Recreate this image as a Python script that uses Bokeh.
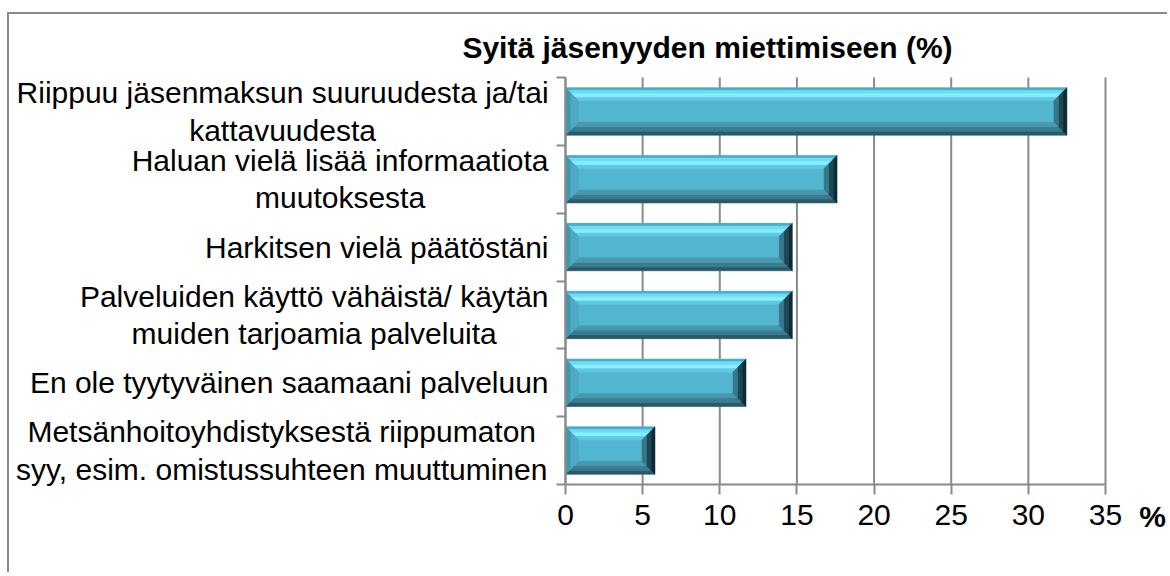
from bokeh.plotting import figure
from bokeh.models import FixedTicker, Label, Range1d, LinearAxis
from bokeh.embed import file_html
from bokeh.resources import INLINE

# ---- data ----
categories = [
    "Riippuu jäsenmaksun suuruudesta ja/tai\nkattavuudesta",
    "Haluan vielä lisää informaatiota\nmuutoksesta",
    "Harkitsen vielä päätöstäni",
    "Palveluiden käyttö vähäistä/ käytän\nmuiden tarjoamia palveluita",
    "En ole tyytyväinen saamaani palveluun",
    "Metsänhoitoyhdistyksestä riippumaton\nsyy, esim. omistussuhteen muuttuminen",
]
values = [32.5, 17.6, 14.7, 14.7, 11.7, 5.8]
x_ticks = [0, 5, 10, 15, 20, 25, 30, 35]
title_text = "Syitä jäsenyyden miettimiseen (%)"
unit_text = "%"

# ---- layout constants (page pixels) ----
FONT = "Liberation Sans"
FS = 30
GREY = "#8a8a8a"
X_MAX = 35
N = len(categories)
CANVAS_X, CANVAS_Y = 9, 14          # page position of the canvas
W, H = 1160, 560                    # canvas size
PLOT_L, PLOT_R = 565, 1105          # page x of value 0 and X_MAX
PLOT_T, PLOT_B = 77, 484            # page y of top / bottom of category band
kx = (PLOT_R - PLOT_L) / X_MAX
ky = (PLOT_B - PLOT_T) / N
x_start = -(PLOT_L - CANVAS_X) / kx
x_end = X_MAX + (CANVAS_X + W - PLOT_R) / kx
y_end = N + (PLOT_T - CANVAS_Y) / ky
y_start = -(CANVAS_Y + H - PLOT_B) / ky

# Arial / Liberation Sans advance widths (1/1000 em) for centring text blocks
_w = {c: 556 for c in "abdeghnopqäöå0123456789"}
_w.update({"c": 500, "f": 278, "i": 222, "j": 222, "k": 500, "l": 222, "m": 833,
           "r": 333, "s": 500, "t": 278, "v": 500, "w": 722, "x": 500, "y": 500,
           "z": 500, " ": 278, ",": 278, ".": 278, "/": 278, "R": 722, "H": 722,
           "P": 667, "E": 667, "M": 833, "S": 667, "K": 667})


def text_width(s, size):
    return max(sum(_w.get(ch, 556) for ch in line) for line in s.split("\n")) * size / 1000.0


p = figure(width=W, height=H, output_backend="svg", toolbar_location=None,
           x_range=Range1d(x_start, x_end), y_range=Range1d(y_start, y_end),
           x_axis_type=None, y_axis_type=None,
           min_border=0, min_border_left=0, min_border_right=0,
           min_border_top=0, min_border_bottom=0,
           styles={"border-left": f"2px solid {GREY}", "border-top": f"2px solid {GREY}",
                   "margin-top": f"{CANVAS_Y - 2}px", "margin-left": f"{CANVAS_X - 2}px"})
p.outline_line_color = None
p.background_fill_color = "white"
p.border_fill_color = "white"
p.xgrid.visible = False
p.ygrid.visible = False

# ---- vertical grid lines (behind bars) ----
p.segment(x0=x_ticks, x1=x_ticks, y0=[0] * len(x_ticks), y1=[N] * len(x_ticks),
          line_color=GREY, line_width=2)

# ---- x axis at y=0 ----
xaxis = LinearAxis(fixed_location=0, bounds=(0, X_MAX), ticker=FixedTicker(ticks=x_ticks))
xaxis.axis_line_color = GREY
xaxis.axis_line_width = 2
xaxis.major_tick_line_color = GREY
xaxis.major_tick_line_width = 2
xaxis.major_tick_in = 0
xaxis.major_tick_out = 10
xaxis.minor_tick_line_color = None
xaxis.major_label_text_font = FONT
xaxis.major_label_text_font_size = f"{FS}px"
xaxis.major_label_text_color = "black"
xaxis.major_label_standoff = 10
p.add_layout(xaxis, "below")

# ---- y axis at x=0: ticks at category boundaries ----
yaxis = LinearAxis(fixed_location=0, bounds=(0, N), ticker=FixedTicker(ticks=list(range(N + 1))))
yaxis.major_label_overrides = {i: "" for i in range(N + 1)}
yaxis.axis_line_color = GREY
yaxis.axis_line_width = 2
yaxis.major_tick_line_color = GREY
yaxis.major_tick_line_width = 2
yaxis.major_tick_in = 0
yaxis.major_tick_out = 9
yaxis.minor_tick_line_color = None
p.add_layout(yaxis, "left")

# ---- beveled bars ----
BEVEL = 13
bx = BEVEL / kx
by = BEVEL / ky
half = 0.35

centers = [N - 1 - i + 0.5 for i in range(N)]
p.quad(left=[0] * N, right=values, bottom=[c - half for c in centers],
       top=[c + half for c in centers], fill_color="#53B6CF", line_color=None)

sides = {
    "top": [(0.0, 0.2, "#4AADC7"), (0.2, 0.45, "#6FDCF4"), (0.45, 0.75, "#86EEFF"),
            (0.75, 1.0, "#62C8E1")],
    "bottom": [(0.0, 0.3, "#2A5A69"), (0.3, 0.65, "#3A7C8F"), (0.65, 1.0, "#4899AE")],
    "left": [(0.0, 0.4, "#3F98AF"), (0.4, 1.0, "#4DAAC2")],
    "right": [(0.0, 0.3, "#0E2B34"), (0.3, 0.65, "#1E4753"), (0.65, 1.0, "#37778A")],
}

xs, ys, cols = [], [], []
for v, c in zip(values, centers):
    x0, x1 = 0.0, v
    yt, yb = c + half, c - half
    for side, bands in sides.items():
        for fa, fb, col in bands:
            if side == "top":
                px = [x0 + fa * bx, x1 - fa * bx, x1 - fb * bx, x0 + fb * bx]
                py = [yt - fa * by, yt - fa * by, yt - fb * by, yt - fb * by]
            elif side == "bottom":
                px = [x0 + fa * bx, x1 - fa * bx, x1 - fb * bx, x0 + fb * bx]
                py = [yb + fa * by, yb + fa * by, yb + fb * by, yb + fb * by]
            elif side == "left":
                px = [x0 + fa * bx, x0 + fb * bx, x0 + fb * bx, x0 + fa * bx]
                py = [yt - fa * by, yt - fb * by, yb + fb * by, yb + fa * by]
            else:
                px = [x1 - fa * bx, x1 - fb * bx, x1 - fb * bx, x1 - fa * bx]
                py = [yt - fa * by, yt - fb * by, yb + fb * by, yb + fa * by]
            xs.append(px)
            ys.append(py)
            cols.append(col)
p.patches(xs, ys, fill_color=cols, line_color=cols, line_width=0.5)

# ---- category labels (right-aligned blocks, centred lines) ----
GAP = 17
for txt, c in zip(categories, centers):
    w = text_width(txt, FS)
    p.add_layout(Label(x=0, y=c, x_offset=-(GAP + w / 2), text=txt,
                       text_align="center", text_baseline="middle",
                       text_font=FONT, text_font_size=f"{FS}px",
                       text_color="black", text_line_height=1.13))

# ---- title and unit ----
p.add_layout(Label(x=0, y=N, x_offset=142, y_offset=30, text=title_text,
                   text_align="center", text_baseline="middle", text_font=FONT,
                   text_font_size=f"{FS}px", text_font_style="bold", text_color="black"))
p.add_layout(Label(x=X_MAX, y=0, x_offset=47, y_offset=-32, text=unit_text,
                   text_align="center", text_baseline="middle", text_font=FONT,
                   text_font_size=f"{FS}px", text_font_style="bold", text_color="black"))

open("out.html", "w").write(file_html(p, INLINE))
